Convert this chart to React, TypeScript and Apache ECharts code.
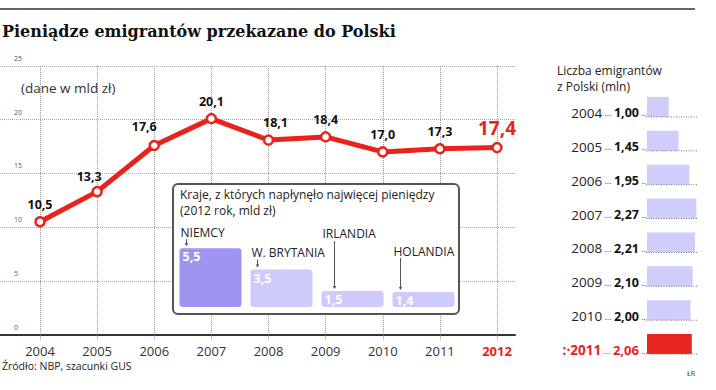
import React, { useEffect, useRef } from 'react';
import * as echarts from 'echarts';

const years = ['2004', '2005', '2006', '2007', '2008', '2009', '2010', '2011', '2012'];
const remittances = [10.5, 13.3, 17.6, 20.1, 18.1, 18.4, 17.0, 17.3, 17.4];
const yTicks = [0, 5, 10, 15, 20, 25];
const countries = ['NIEMCY', 'W. BRYTANIA', 'IRLANDIA', 'HOLANDIA'];
const countryValues = [5.5, 3.5, 1.5, 1.4];
const emigrantYears = ['2004', '2005', '2006', '2007', '2008', '2009', '2010', '2011'];
const emigrants = [1.0, 1.45, 1.95, 2.27, 2.21, 2.1, 2.0, 2.06];

const RED = '#e8231d';
const FONT = '"Open Sans", sans-serif';
const fmt = (v: number, d = 1) => v.toFixed(d).replace('.', ',');

export default function App() {
  const ref = useRef<HTMLDivElement>(null);
  useEffect(() => {
    if (!ref.current) return;
    const chart = echarts.init(ref.current, undefined, { renderer: 'svg' });

    const labelOffsets: Record<number, number[]> = { 1: [-8, 2], 2: [-10, -2], 4: [7, 0] };
    const nameLift = [16, 17, 57, 41];
    const pointerDx = [7, 7, 13, 8];

    const option: any = {
      animation: false,
      textStyle: { fontFamily: FONT },
      grid: [
        { left: 0, right: 201, top: 66, bottom: 55.5 },
        { left: 40, right: 219, top: 66, bottom: 55.5 },
        { left: 175, right: 257, top: 242.8, bottom: 83 },
        { left: 647, right: 19, top: 90, bottom: 29 },
      ],
      xAxis: [
        {
          gridIndex: 0, type: 'value', min: 0, max: 1,
          axisLine: { show: true, lineStyle: { color: '#333', width: 2 } },
          axisTick: { show: false }, axisLabel: { show: false }, splitLine: { show: false },
        },
        {
          gridIndex: 1, type: 'category', data: years, boundaryGap: false,
          axisLine: { show: false },
          axisTick: { show: true, length: 5, interval: 0, lineStyle: { color: '#888', type: 'dotted' } },
          splitLine: { show: true, interval: 0, lineStyle: { color: '#999', type: 'dotted', width: 1 } },
          axisLabel: {
            interval: 0, margin: 10, fontSize: 13, color: '#333', fontFamily: FONT,
            formatter: (v: string) => (v === '2012' ? `{r|${v}}` : v),
            rich: { r: { color: RED, fontWeight: 'bold', fontSize: 13, fontFamily: FONT } },
          },
        },
        { gridIndex: 2, type: 'category', data: countries, show: false },
        { gridIndex: 3, type: 'value', min: 0, max: 2.3, show: false },
      ],
      yAxis: [
        {
          gridIndex: 0, type: 'value', min: yTicks[0], max: yTicks[yTicks.length - 1], interval: 5,
          axisLine: { show: false }, axisTick: { show: false },
          splitLine: { show: true, lineStyle: { color: '#aaa', type: 'dotted', width: 1 } },
          axisLabel: {
            inside: true, margin: 14, fontSize: 7, color: '#555',
            verticalAlign: 'bottom', padding: [0, 0, 4, 0],
            showMinLabel: true, showMaxLabel: true,
          },
        },
        { gridIndex: 1, type: 'value', min: 0, max: 25, show: false },
        { gridIndex: 2, type: 'value', min: 0, max: 6, show: false },
        {
          gridIndex: 3, type: 'category', data: emigrantYears, inverse: true,
          axisLine: { show: false }, axisTick: { show: false },
          axisLabel: {
            interval: 0, margin: 1, padding: [12, 0, 0, 0],
            formatter: (v: string, i: number) =>
              i === emigrantYears.length - 1
                ? `{ry|:·${v}}{rd| ... }{rv|${fmt(emigrants[i], 2)}}{rd| ..}`
                : `{y|${v}}{d| ... }{v|${fmt(emigrants[i], 2)}}{d| ..}`,
            rich: {
              y: { fontSize: 13.5, color: '#222', fontFamily: FONT },
              d: { fontSize: 9, color: '#444', fontFamily: FONT },
              v: { fontSize: 12.5, color: '#111', fontWeight: 'bold', fontFamily: FONT },
              ry: { fontSize: 13.5, color: RED, fontWeight: 'bold', fontFamily: FONT },
              rd: { fontSize: 9, color: RED, fontFamily: FONT },
              rv: { fontSize: 13, color: RED, fontWeight: 'bold', fontFamily: FONT },
            },
          },
        },
      ],
      series: [
        {
          type: 'line', xAxisIndex: 1, yAxisIndex: 1, z: 4,
          data: remittances.map((v, i) => {
            const last = i === remittances.length - 1;
            return {
              value: v,
              label: last
                ? { color: RED, fontSize: 19, distance: 4 }
                : labelOffsets[i] ? { offset: labelOffsets[i] } : {},
            };
          }),
          lineStyle: { color: RED, width: 5 },
          symbol: 'circle', symbolSize: 9,
          itemStyle: { color: '#fff', borderColor: RED, borderWidth: 2.5 },
          label: {
            show: true, position: 'top', distance: 5, color: '#111',
            fontWeight: 'bold', fontSize: 12.5, fontFamily: FONT,
            formatter: (p: any) => fmt(p.value),
          },
        },
        {
          type: 'bar', xAxisIndex: 2, yAxisIndex: 2, z: 10, barWidth: 62,
          data: countryValues.map((v, i) => ({
            value: v,
            itemStyle: { color: i === 0 ? '#9d95f0' : '#cecbfa', borderRadius: 3 },
          })),
          label: {
            show: true, position: 'insideTopLeft', distance: 2, offset: [1, 0],
            color: '#fff', fontWeight: 'bold', fontSize: 12.5, fontFamily: FONT,
            formatter: (p: any) => fmt(p.value),
          },
        },
        {
          type: 'custom', xAxisIndex: 2, yAxisIndex: 2, z: 11,
          data: countryValues.map((v, i) => [i, v]),
          renderItem: (params: any, api: any) => {
            const i = params.dataIndex;
            const p = api.coord([api.value(0), api.value(1)]);
            const left = p[0] - 31;
            const top = p[1];
            const ty = top - nameLift[i];
            const lx = left + pointerDx[i];
            return {
              type: 'group',
              children: [
                {
                  type: 'text', x: left + 1, y: ty,
                  style: { text: countries[i], fill: '#222', fontSize: 12, fontFamily: FONT, verticalAlign: 'middle' },
                },
                { type: 'line', shape: { x1: lx, y1: ty + 7, x2: lx, y2: top - 4 }, style: { stroke: '#555', lineWidth: 1 } },
                {
                  type: 'polygon',
                  shape: { points: [[lx - 1.8, top - 5], [lx + 1.8, top - 5], [lx, top - 2]] },
                  style: { fill: '#555' },
                },
              ],
            };
          },
        },
        {
          type: 'bar', xAxisIndex: 3, yAxisIndex: 3, z: 5, barWidth: 20,
          data: emigrants.map((v, i) => ({
            value: v,
            itemStyle: { color: i === emigrants.length - 1 ? '#e8261f' : '#cfcdfb' },
          })),
        },
        {
          type: 'custom', xAxisIndex: 3, yAxisIndex: 3, z: 6,
          data: emigrants.map((v, i) => [v, i]),
          renderItem: (params: any, api: any) => {
            const p0 = api.coord([0, api.value(1)]);
            const p1 = api.coord([2.3, api.value(1)]);
            const y = p0[1] + 10;
            return {
              type: 'line',
              shape: { x1: p0[0] - 1, y1: y, x2: p1[0], y2: y },
              style: { stroke: '#777', lineWidth: 1, lineDash: [1, 1.5] },
            };
          },
        },
      ],
      graphic: [
        { type: 'line', z: 3, shape: { x1: 0, y1: 9, x2: 695, y2: 9 }, style: { stroke: '#666', lineWidth: 2 } },
        {
          type: 'text', x: 2, y: 31, z: 3,
          style: { text: 'Pieniądze emigrantów przekazane do Polski', fontSize: 16, fontWeight: 'bold', fontFamily: '"DejaVu Serif", serif', fill: '#111', verticalAlign: 'middle' },
        },
        {
          type: 'text', x: 21, y: 88, z: 3,
          style: { text: '(dane w mld zł)', fontSize: 13.5, fontFamily: FONT, fill: '#333', verticalAlign: 'middle' },
        },
        {
          type: 'rect', z: 3, shape: { x: 173, y: 184, width: 286, height: 130, r: 5 },
          style: { fill: '#fff', stroke: '#555', lineWidth: 2 },
        },
        {
          type: 'text', x: 180, y: 194, z: 4,
          style: { text: 'Kraje, z których napłynęło najwięcej pieniędzy', fontSize: 12, fontFamily: FONT, fill: '#222', verticalAlign: 'middle' },
        },
        {
          type: 'text', x: 180, y: 210, z: 4,
          style: { text: '(2012 rok, mld zł)', fontSize: 12, fontFamily: FONT, fill: '#222', verticalAlign: 'middle' },
        },
        {
          type: 'text', x: 557, y: 70, z: 3,
          style: { text: 'Liczba emigrantów', fontSize: 12, fontFamily: FONT, fill: '#222', verticalAlign: 'middle' },
        },
        {
          type: 'text', x: 557, y: 86, z: 3,
          style: { text: 'z Polski (mln)', fontSize: 12, fontFamily: FONT, fill: '#222', verticalAlign: 'middle' },
        },
        {
          type: 'text', x: 2, y: 366, z: 3,
          style: { text: 'Źródło: NBP, szacunki GUS', fontSize: 10.5, fontFamily: FONT, fill: '#222', verticalAlign: 'middle' },
        },
        {
          type: 'text', x: 687, y: 373, z: 3,
          style: { text: 'ŁR', fontSize: 7, fontFamily: FONT, fill: '#333', verticalAlign: 'middle' },
        },
      ],
    };
    chart.setOption(option);
    return () => chart.dispose();
  }, []);
  return (
    <div
      ref={ref}
      style={{ position: 'fixed', left: 0, top: 0, width: 716, height: 390, background: '#fff' }}
    />
  );
}
